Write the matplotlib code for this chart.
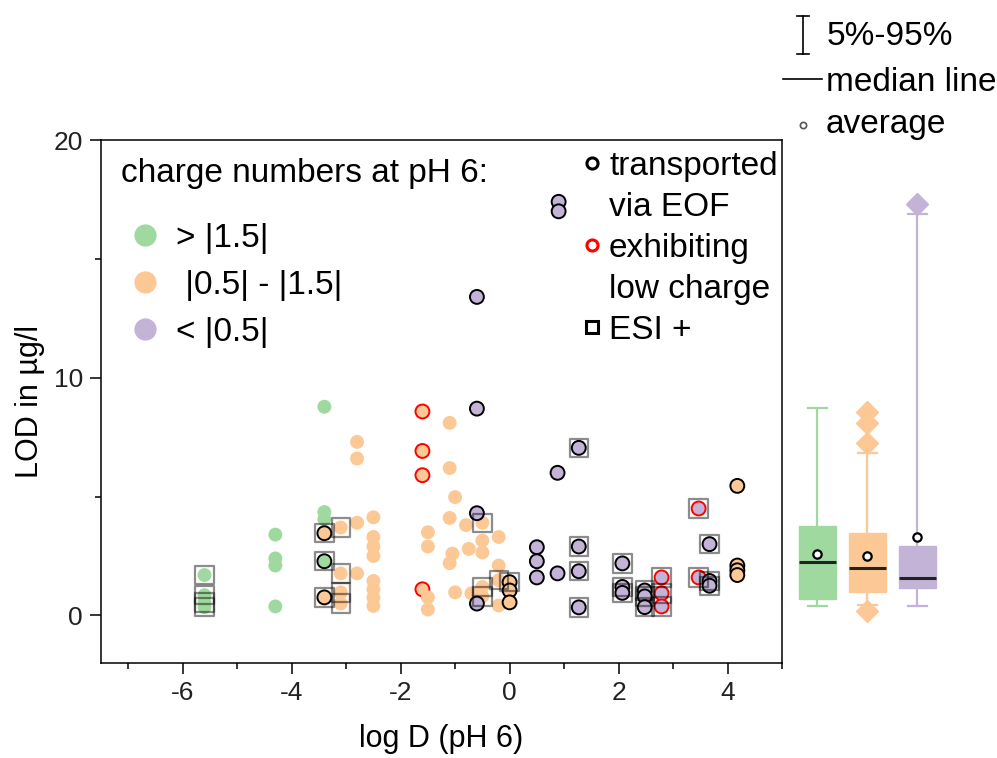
import matplotlib
matplotlib.use("Agg")
import matplotlib.pyplot as plt
from matplotlib.lines import Line2D

plt.rcParams['font.family'] = ['Liberation Sans', 'DejaVu Sans']
plt.rcParams['axes.unicode_minus'] = False

W, H = 997, 758
GREEN = '#a0d9a0'
ORANGE = '#fcc896'
PURPLE = '#c2b3d7'

# ---- data: log D (pH 6) vs. LOD, grouped by charge number at pH 6 ----
# edge code: 'n' = none, 'k' = transported via EOF, 'r' = exhibiting low charge
# esi: 1 = detected in ESI+
green_logd = [-5.6, -5.6, -5.6, -5.6, -4.3, -4.3, -4.3, -4.3, -3.4, -3.4, -3.4, -3.4]
green_lod = [1.7, 0.85, 0.55, 0.35, 3.4, 2.4, 2.1, 0.38, 8.78, 4.35, 4.05, 2.28]
green_edge = ['n', 'n', 'n', 'n', 'n', 'n', 'n', 'n', 'n', 'n', 'n', 'k']
green_esi = [1, 1, 1, 1, 0, 0, 0, 0, 0, 0, 0, 1]

orange_logd = [-3.4, -3.4, -3.1, -3.1, -3.1, -3.1, -2.8, -2.8, -2.8, -2.8,
               -2.5, -2.5, -2.5, -2.5, -2.5, -2.5, -2.5, -2.5,
               -1.6, -1.6, -1.6, -1.6, -1.5, -1.5, -1.5, -1.5,
               -1.1, -1.1, -1.0, -1.1, -1.05, -1.1, -1.0,
               -0.8, -0.75, -0.7, -0.5, -0.5, -0.5, -0.5, -0.5,
               -0.2, -0.2, -0.2, -0.2, 0.0, 0.0, 0.0,
               4.18, 4.18, 4.18, 4.18]
orange_lod = [3.46, 0.76, 3.7, 1.77, 0.97, 0.5, 7.3, 6.6, 3.9, 1.77,
              4.13, 3.3, 2.9, 2.5, 1.45, 1.1, 0.75, 0.4,
              8.58, 6.92, 5.9, 1.1, 3.5, 2.9, 0.76, 0.25,
              8.1, 6.2, 4.98, 4.1, 2.6, 2.2, 0.97,
              3.8, 2.8, 0.93, 3.9, 3.15, 2.65, 1.2, 0.8,
              3.3, 2.1, 1.48, 0.42, 1.4, 1.05, 0.55,
              5.45, 2.1, 1.9, 1.7]
orange_edge = ['k', 'k', 'n', 'n', 'n', 'n', 'n', 'n', 'n', 'n',
               'n', 'n', 'n', 'n', 'n', 'n', 'n', 'n',
               'r', 'r', 'r', 'r', 'n', 'n', 'n', 'n',
               'n', 'n', 'n', 'n', 'n', 'n', 'n',
               'n', 'n', 'n', 'n', 'n', 'n', 'n', 'n',
               'n', 'n', 'n', 'n', 'k', 'k', 'k',
               'k', 'k', 'k', 'k']
orange_esi = [1, 1, 1, 1, 1, 1, 0, 0, 0, 0,
              0, 0, 0, 0, 0, 0, 0, 0,
              0, 0, 0, 0, 0, 0, 0, 0,
              0, 0, 0, 0, 0, 0, 0,
              0, 0, 0, 1, 0, 0, 1, 1,
              0, 0, 1, 0, 1, 0, 0,
              0, 0, 0, 0]

purple_logd = [0.9, 0.9, -0.6, -0.6, -0.6, -0.6, 1.27, 0.88, 0.5, 0.5, 0.5, 0.88,
               1.27, 1.27, 1.27, 2.07, 2.07, 2.07, 2.48, 2.48, 2.48,
               2.79, 2.79, 2.79, 3.47, 3.47, 3.67, 3.67, 3.67]
purple_lod = [17.4, 17.0, 13.4, 8.7, 4.3, 0.5, 7.05, 6.0, 2.87, 2.28, 1.6, 1.77,
              2.9, 1.86, 0.34, 2.19, 1.2, 0.95, 1.05, 0.8, 0.35,
              1.6, 0.93, 0.38, 4.5, 1.6, 3.0, 1.45, 1.25]
purple_edge = ['k', 'k', 'k', 'k', 'k', 'k', 'k', 'k', 'k', 'k', 'k', 'k',
               'k', 'k', 'k', 'k', 'k', 'k', 'k', 'k', 'k',
               'r', 'r', 'r', 'r', 'r', 'k', 'k', 'k']
purple_esi = [0, 0, 0, 0, 0, 0, 1, 0, 0, 0, 0, 0,
              1, 1, 1, 1, 1, 1, 1, 1, 1,
              1, 1, 1, 1, 1, 1, 1, 1]

# ---- box summary per charge group (5%-95% whiskers) ----
box_med = [2.24, 1.98, 1.56]
box_q1 = [0.68, 0.97, 1.14]
box_q3 = [3.76, 3.46, 2.91]
box_lo = [0.38, 0.42, 0.38]
box_hi = [8.73, 6.84, 16.9]
box_mean = [2.6, 2.49, 3.29]
box_fliers = [[], [8.57, 8.1, 7.25, 0.2], [17.3]]

group_labels = ['> |1.5|', ' |0.5| - |1.5|', '< |0.5|']
group_colors = [GREEN, ORANGE, PURPLE]

KEY_FS = 24


def fx(px):
    return px / W


def fy(py):
    return 1 - py / H


fig = plt.figure(figsize=(W / 100, H / 100), dpi=100)
ax = fig.add_axes([fx(101), fy(663), (782 - 101) / W, (663 - 140) / H])

edge_map = {'n': 'none', 'k': 'black', 'r': 'red'}
lw_map = {'n': 0.0, 'k': 1.4, 'r': 1.4}

groups = [
    (green_logd, green_lod, green_edge, green_esi, GREEN),
    (orange_logd, orange_lod, orange_edge, orange_esi, ORANGE),
    (purple_logd, purple_lod, purple_edge, purple_esi, PURPLE),
]
for xs, ys, edges, esi, col in groups:
    ax.scatter(xs, ys, s=100, facecolor=col,
               edgecolors=[edge_map[e] for e in edges],
               linewidths=[lw_map[e] for e in edges], zorder=3)

for xs, ys, edges, esi, col in groups:
    sx = [x for x, f in zip(xs, esi) if f]
    sy = [y for y, f in zip(ys, esi) if f]
    ax.scatter(sx, sy, s=175, marker='s', facecolor='none',
               edgecolors=(0, 0, 0, 0.45), linewidths=1.6, zorder=4)

ax.set_xlim(-7.5, 5)
ax.set_ylim(-2, 20)
ax.set_xticks([-6, -4, -2, 0, 2, 4])
ax.set_xticks([-7, -5, -3, -1, 1, 3, 5], minor=True)
ax.set_yticks([0, 10, 20])
ax.set_yticks([5, 15], minor=True)
ax.tick_params(which='major', direction='out', length=8, width=1.1,
               labelsize=19, pad=5, labelcolor='#222222')
ax.tick_params(which='minor', direction='out', length=4, width=1.1)
for sp in ax.spines.values():
    sp.set_linewidth(1.1)
ax.set_xlabel('log D (pH 6)', fontsize=22, labelpad=14)
ax.set_ylabel('LOD in µg/l', fontsize=22, labelpad=6)

# charge-group key
ax.text(fx(121), fy(182), 'charge numbers at pH 6:', transform=fig.transFigure,
        fontsize=KEY_FS, va='baseline', ha='left')
charge_handles = [Line2D([], [], ls='', marker='o', ms=16, color=c, mew=0)
                  for c in group_colors]
leg1 = ax.legend(charge_handles, group_labels, loc='upper left',
                 bbox_to_anchor=(fx(121), fy(223)),
                 bbox_transform=fig.transFigure, frameon=False, fontsize=KEY_FS,
                 handlelength=1.44, handletextpad=0.2, labelspacing=0.48,
                 borderpad=0, borderaxespad=0)
ax.add_artist(leg1)

# marker-style key
style_handles = [
    Line2D([], [], ls='', marker='o', ms=8, mfc='white', mec='black', mew=2.2),
    Line2D([], [], ls='', marker='', color='none'),
    Line2D([], [], ls='', marker='o', ms=8, mfc='white', mec='red', mew=2.2),
    Line2D([], [], ls='', marker='', color='none'),
    Line2D([], [], ls='', marker='s', ms=8, mfc='white', mec='black', mew=2.2),
]
style_labels = ['transported', 'via EOF', 'exhibiting', 'low charge', 'ESI +']
ax.legend(style_handles, style_labels, loc='upper left',
          bbox_to_anchor=(fx(582), fy(151)), bbox_transform=fig.transFigure,
          frameon=False, fontsize=KEY_FS, handlelength=0.6, handletextpad=0.21,
          labelspacing=0.3, borderpad=0, borderaxespad=0)

# box summary panel sharing the LOD axis
bax = fig.add_axes([fx(782), fy(663), (W - 782) / W, (663 - 140) / H], sharey=ax)
stats = []
for i in range(3):
    stats.append(dict(med=box_med[i], q1=box_q1[i], q3=box_q3[i],
                      whislo=box_lo[i], whishi=box_hi[i], mean=box_mean[i],
                      fliers=box_fliers[i], label=group_labels[i]))
res = bax.bxp(stats, positions=[1, 2, 3], widths=0.74, patch_artist=True,
              showmeans=True, capwidths=0.38,
              medianprops=dict(color='#222222', lw=2.2),
              meanprops=dict(marker='o', mfc='white', mec='black', ms=6, mew=1.6))
for i, col in enumerate(group_colors):
    res['boxes'][i].set_facecolor(col)
    res['boxes'][i].set_edgecolor(col)
    for ln in res['whiskers'][2 * i:2 * i + 2] + res['caps'][2 * i:2 * i + 2]:
        ln.set_color(col)
        ln.set_linewidth(1.6)
    fl = res['fliers'][i]
    fl.set_marker('D')
    fl.set_markerfacecolor(col)
    fl.set_markeredgecolor(col)
    fl.set_markersize(11)
bax.set_xlim(0.3, 0.3 + (W - 782) / 50)
bax.axis('off')

# summary key (top right)
fig.add_artist(Line2D([fx(803), fx(803)], [fy(16), fy(54)], color='black', lw=1.2))
fig.add_artist(Line2D([fx(797), fx(809)], [fy(16), fy(16)], color='black', lw=1.2))
fig.add_artist(Line2D([fx(797), fx(809)], [fy(54), fy(54)], color='black', lw=1.2))
fig.text(fx(827), fy(45), '5%-95%', fontsize=KEY_FS, va='baseline')
fig.add_artist(Line2D([fx(783), fx(822)], [fy(79), fy(79)], color='black', lw=1.2))
fig.text(fx(826), fy(91), 'median line', fontsize=KEY_FS, va='baseline')
fig.add_artist(Line2D([fx(803)], [fy(125)], ls='', marker='o', ms=4.5,
                      mfc='white', mec='#555555', mew=1.2))
fig.text(fx(826), fy(133), 'average', fontsize=KEY_FS, va='baseline')

fig.savefig('out.png', dpi=100)
